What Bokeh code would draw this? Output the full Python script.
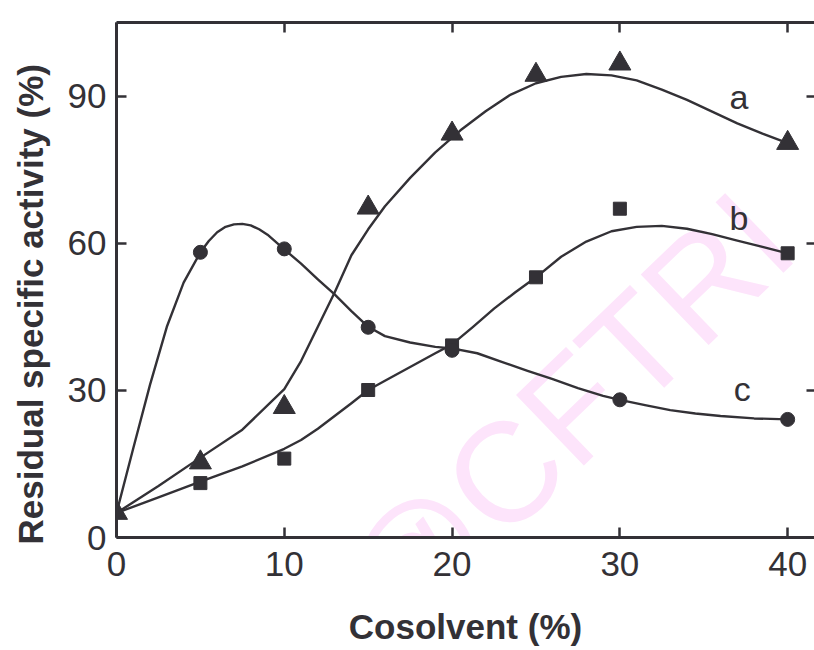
from bokeh.plotting import figure
from bokeh.models import LinearAxis, Label, Range1d, FixedTicker, GridBox
from bokeh.embed import file_html
from bokeh.resources import INLINE
from bokeh.core.properties import value

# ---- measured points ----
a_x = [0, 5, 10, 15, 20, 25, 30, 40]
a_y = [5, 15.3, 26.6, 67.3, 82.4, 94.4, 96.7, 80.5]
b_x = [5, 10, 15, 20, 25, 30, 40]
b_y = [11.1, 16.1, 30.1, 39.2, 53.1, 67.1, 58.0]
c_x = [5, 10, 15, 20, 30, 40]
c_y = [58.2, 58.9, 42.9, 38.2, 28.1, 24.1]

# ---- fitted curves ----
fit_a_x = [0, 2.5, 5, 7.5, 10, 11, 12, 13, 14, 15, 16, 17.5, 19, 20.5, 22, 23.5,
           25, 26.5, 28, 29.5, 31, 32.5, 34, 35.5, 37, 38.5, 40]
fit_a_y = [5, 10.5, 16.3, 22.0, 30.3, 36.0, 43.0, 50.0, 57.6, 62.9, 67.6, 73.4,
           78.6, 83.1, 87.0, 90.4, 92.7, 94.0, 94.6, 94.3, 93.3, 91.4, 89.3, 86.9,
           84.5, 82.4, 80.5]
fit_b_x = [0, 2.5, 5, 7.5, 10, 11, 12, 13, 14, 15, 16, 17.5, 19, 20, 21.25, 22.5,
           23.75, 25, 26.5, 28, 29.5, 31, 32.5, 34, 35.5, 37, 38.5, 40]
fit_b_y = [5, 8.2, 11.4, 14.5, 18.1, 19.9, 22.2, 24.8, 27.4, 30.1, 32.0, 34.8,
           37.6, 39.4, 43.0, 46.7, 50.0, 53.1, 57.3, 60.4, 62.5, 63.4, 63.6, 63.0,
           61.9, 60.6, 59.3, 58.0]
fit_c_x = [0, 1, 2, 3, 4, 5, 5.5, 6, 6.5, 7, 7.5, 8, 8.5, 9, 10, 11, 12, 13, 14,
           15, 16, 17.5, 19, 20, 21.5, 23, 24.5, 26, 27.5, 29, 30, 31.5, 33, 34.5,
           36, 38, 40]
fit_c_y = [5, 18.2, 31.2, 43.0, 52.0, 58.2, 60.5, 62.3, 63.4, 63.9, 64.0, 63.7,
           62.9, 61.8, 58.8, 55.9, 52.7, 49.6, 46.2, 43.0, 41.1, 39.8, 38.9, 38.6,
           37.6, 35.8, 34.0, 32.3, 30.5, 28.9, 28.1, 27.0, 26.0, 25.3, 24.8, 24.3,
           24.1]

curve_labels = ["a", "b", "c"]
label_x = [37.1, 37.1, 37.3]
label_y = [89.8, 65.3, 30.3]

x_ticks = [0, 10, 20, 30, 40]
y_ticks = [0, 30, 60, 90]

watermark_text = "@CFTRI"

INK = "#333136"
FONT = "Liberation Sans"
NBSP = "\u00a0"
W, H = 814, 650

# ---- background layer carrying the watermark (whole canvas is its frame) ----
bg = figure(width=W, height=H, output_backend="svg", toolbar_location=None,
            x_range=Range1d(0, W), y_range=Range1d(0, H), min_border=0,
            x_axis_type=None, y_axis_type=None, background_fill_color="white",
            border_fill_color="white")
bg.outline_line_color = None
bg.grid.visible = False
bg.add_layout(Label(x=524, y=H - 494, text=watermark_text, angle=44,
                    angle_units="deg", text_font=FONT, text_font_size="142px",
                    text_color="#fde4fb", text_align="center",
                    text_baseline="middle"))

# ---- main chart, transparent so the watermark shows beneath ----
p = figure(width=W, height=H, output_backend="svg", toolbar_location=None,
           x_range=Range1d(0, 41.6), y_range=Range1d(0, 105.1),
           min_border_left=116, min_border_right=0, min_border_top=22,
           min_border_bottom=113, background_fill_color=None,
           border_fill_color=None)
p.outline_line_color = None
p.grid.visible = False

def style_axis(ax, ticks, labels=True):
    ax.ticker = FixedTicker(ticks=ticks)
    ax.axis_line_color = INK
    ax.axis_line_width = 3
    ax.major_tick_line_color = INK
    ax.major_tick_line_width = 2.5
    ax.major_tick_in = 10
    ax.major_tick_out = 0
    ax.minor_tick_line_color = None
    ax.major_label_text_font = FONT
    ax.major_label_text_color = INK
    if labels:
        ax.major_label_text_font_size = "35px"
    else:
        ax.major_label_overrides = {t: "" for t in ticks}
        ax.major_label_text_font_size = "2px"
        ax.major_label_standoff = 0

xa = p.xaxis[0]
style_axis(xa, x_ticks)
xa.major_label_standoff = 14
xa.axis_label = "Cosolvent (%)"
xa.axis_label_text_font = FONT
xa.axis_label_text_font_style = "bold"
xa.axis_label_text_font_size = "35px"
xa.axis_label_text_color = INK
xa.axis_label_standoff = 28

ya = p.yaxis[0]
style_axis(ya, y_ticks)
ya.major_label_standoff = 10
ya.axis_label = "Residual specific activity (%)" + NBSP * 5
ya.axis_label_text_font = FONT
ya.axis_label_text_font_style = "bold"
ya.axis_label_text_font_size = "35px"
ya.axis_label_text_color = INK
ya.axis_label_standoff = 15

top = LinearAxis()
style_axis(top, x_ticks, labels=False)
p.add_layout(top, "above")

right = LinearAxis()
style_axis(right, y_ticks, labels=False)
right.axis_line_color = None
right.major_tick_in = 8
p.add_layout(right, "right")

# curves
for fx, fy in [(fit_a_x, fit_a_y), (fit_b_x, fit_b_y), (fit_c_x, fit_c_y)]:
    p.line(fx, fy, line_color=INK, line_width=2.4, line_join="round", line_cap="round")

# markers
p.scatter(a_x, a_y, marker="triangle", size=22, fill_color=INK, line_color=INK)
p.scatter(b_x, b_y, marker="square", size=13, fill_color=INK, line_color=INK)
p.scatter(c_x, c_y, marker="circle", size=14, fill_color=INK, line_color=INK)

# curve labels
p.text(label_x, label_y, text=curve_labels, text_font=value(FONT),
       text_font_size="34px", text_color=INK, text_align="center",
       text_baseline="middle")

layout = GridBox(children=[(bg, 0, 0), (p, 0, 0)], width=W, height=H)

open("out.html", "w").write(file_html(layout, INLINE))
